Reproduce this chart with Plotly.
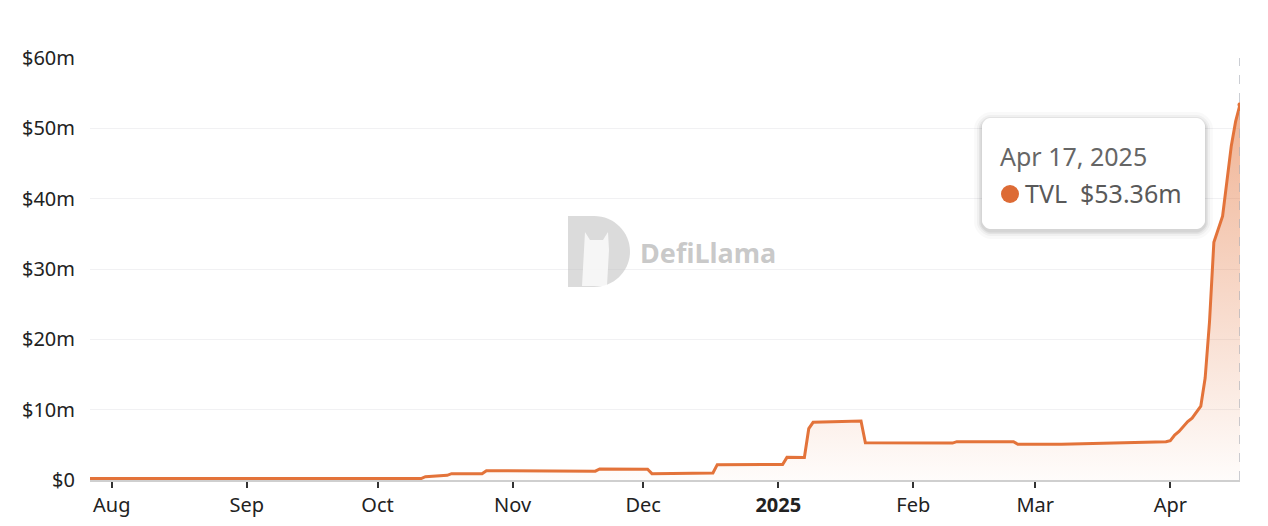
import plotly.graph_objects as go

# TVL (USD millions), at each date where the line turns
dates = [
    '2024-07-27', '2024-10-11', '2024-10-12', '2024-10-16', '2024-10-17', '2024-10-18',
    '2024-10-25', '2024-10-26', '2024-11-06', '2024-11-07', '2024-11-20', '2024-11-21',
    '2024-12-02', '2024-12-03', '2024-12-10', '2024-12-17', '2024-12-18', '2025-01-02',
    '2025-01-03', '2025-01-07', '2025-01-08', '2025-01-09', '2025-01-20', '2025-01-21',
    '2025-02-10', '2025-02-11', '2025-02-24', '2025-02-25', '2025-03-07', '2025-03-18',
    '2025-03-31', '2025-04-01', '2025-04-02', '2025-04-03', '2025-04-04', '2025-04-05',
    '2025-04-06', '2025-04-07', '2025-04-08', '2025-04-09', '2025-04-10', '2025-04-11',
    '2025-04-12', '2025-04-13', '2025-04-14', '2025-04-15', '2025-04-16', '2025-04-17',
]
tvl = [
    0.2, 0.2, 0.47, 0.55, 0.67, 0.9,
    0.9, 1.33, 1.33, 1.23, 1.25, 1.56,
    1.52, 0.9, 0.95, 1.0, 2.18, 2.2,
    3.22, 3.2, 7.3, 8.2, 8.4, 5.3,
    5.25, 5.45, 5.45, 5.08, 5.1, 5.3,
    5.45, 5.6, 6.4, 6.9, 7.6, 8.3,
    8.8, 9.6, 10.5, 14.5, 22.5, 33.8,
    35.6, 37.5, 42.5, 47.5, 51.0, 53.36,
]

y_ticks = [0, 10, 20, 30, 40, 50, 60]
y_labels = ['$0', '$10m', '$20m', '$30m', '$40m', '$50m', '$60m']
x_ticks = ['2024-08-01', '2024-09-01', '2024-10-01', '2024-11-01', '2024-12-01',
           '2025-01-01', '2025-02-01', '2025-03-01', '2025-04-01']
x_labels = ['Aug', 'Sep', 'Oct', 'Nov', 'Dec', '<b>2025</b>', 'Feb', 'Mar', 'Apr']

hover_date = 'Apr 17, 2025'
hover_value = '$53.36m'

ORANGE = '#e3733a'
FONT = 'Noto Sans'

# plot area in pixels: x 90..1240, y 58..480
L, R, T, B = 90, 1240, 58, 480


def px(x):
    return (x - L) / (R - L)


def py(y):
    return (B - y) / (B - T)


def rounded_rect(x0, y0, x1, y1, r):
    k = 0.45 * r
    pts = [
        ('M', [(x0 + r, y0)]),
        ('L', [(x1 - r, y0)]),
        ('C', [(x1 - r + k, y0), (x1, y0 + r - k), (x1, y0 + r)]),
        ('L', [(x1, y1 - r)]),
        ('C', [(x1, y1 - r + k), (x1 - r + k, y1), (x1 - r, y1)]),
        ('L', [(x0 + r, y1)]),
        ('C', [(x0 + r - k, y1), (x0, y1 - r + k), (x0, y1 - r)]),
        ('L', [(x0, y0 + r)]),
        ('C', [(x0, y0 + r - k), (x0 + r - k, y0), (x0 + r, y0)]),
    ]
    out = ''
    for cmd, coords in pts:
        out += cmd + ' '.join('%.5f,%.5f' % (px(a), py(b)) for a, b in coords) + ' '
    return out + 'Z'


fig = go.Figure()
fig.add_trace(go.Scatter(
    x=dates, y=tvl, mode='lines',
    line=dict(color=ORANGE, width=3),
    fill='tozeroy',
    fillgradient=dict(type='vertical', start=0, stop=54,
                      colorscale=[[0, 'rgba(227,115,58,0.02)'], [1, 'rgba(227,115,58,0.55)']]),
    hoverinfo='skip', showlegend=False,
))
fig.add_trace(go.Scatter(
    x=[dates[-1]], y=[tvl[-1]], mode='markers',
    marker=dict(color=ORANGE, size=5), hoverinfo='skip', showlegend=False,
))

shapes = []
# hover crosshair
shapes.append(dict(type='line', xref='x', yref='paper', x0=dates[-1], x1=dates[-1], y0=0, y1=1,
                   line=dict(color='#a9aeb8', width=1.2, dash='dash')))
# tooltip shadow + box
for grow, alpha in [(8, 0.025), (5, 0.035), (3, 0.05), (1.5, 0.06)]:
    shapes.append(dict(type='path', xref='paper', yref='paper', layer='above',
                       path=rounded_rect(982 - grow, 118 - grow + 2, 1205 + grow, 229 + grow + 2, 8 + grow),
                       fillcolor='rgba(0,0,0,%s)' % alpha, line=dict(width=0)))
shapes.append(dict(type='path', xref='paper', yref='paper', layer='above',
                   path=rounded_rect(982, 118, 1205, 229, 8),
                   fillcolor='white', line=dict(width=0)))
shapes.append(dict(type='circle', xref='paper', yref='paper', layer='above',
                   x0=px(1001), x1=px(1019), y0=py(203), y1=py(185),
                   fillcolor='#dd6b35', line=dict(width=0)))

# watermark logo
shapes.append(dict(type='path', xref='paper', yref='paper', layer='above',
                   path=('M%.5f,%.5f L%.5f,%.5f C%.5f,%.5f %.5f,%.5f %.5f,%.5f '
                         'C%.5f,%.5f %.5f,%.5f %.5f,%.5f L%.5f,%.5f L%.5f,%.5f Z') % (
                       px(568), py(216), px(594), py(216),
                       px(614), py(216), px(630), py(232), px(630), py(251.5),
                       px(630), py(271), px(614), py(287), px(594), py(287),
                       px(568), py(287), px(568), py(216)),
                   fillcolor='rgba(190,190,190,0.55)', line=dict(width=0)))
shapes.append(dict(type='path', xref='paper', yref='paper', layer='above',
                   path='M%.5f,%.5f L%.5f,%.5f L%.5f,%.5f L%.5f,%.5f L%.5f,%.5f L%.5f,%.5f L%.5f,%.5f L%.5f,%.5f Z' % (
                       px(582), py(286), px(584), py(250), px(585), py(232), px(590), py(240),
                       px(603), py(240), px(608), py(232), px(609), py(250), px(607), py(286)),
                   fillcolor='rgba(255,255,255,0.75)', line=dict(width=0)))

annotations = [
    dict(xref='paper', yref='paper', x=px(638), y=py(252), xanchor='left', yanchor='middle',
         text='<b>DefiLlama</b>', showarrow=False,
         font=dict(family=FONT, size=27, color='rgba(165,165,165,0.6)')),
    dict(xref='paper', yref='paper', x=px(998), y=py(156), xanchor='left', yanchor='middle',
         text=hover_date, showarrow=False, font=dict(family=FONT, size=25, color='#666666')),
    dict(xref='paper', yref='paper', x=px(1023), y=py(193), xanchor='left', yanchor='middle',
         text='TVL\u00a0 ' + hover_value, showarrow=False, font=dict(family=FONT, size=25, color='#595959')),
]

fig.update_layout(
    width=1268, height=526,
    margin=dict(l=L, r=1268 - R, t=T, b=526 - B),
    paper_bgcolor='white', plot_bgcolor='white',
    font=dict(family=FONT, size=20, color='#222222'),
    shapes=shapes, annotations=annotations,
    xaxis=dict(
        type='date', range=['2024-07-27', '2025-04-17'],
        tickvals=x_ticks, ticktext=x_labels, automargin=False,
        showgrid=False, zeroline=False,
        showline=True, linecolor='#cfcfcf', linewidth=1.5,
        ticks='outside', ticklen=6, tickwidth=1.5, tickcolor='#333333',
        tickfont=dict(family=FONT, size=20, color='#222222'),
    ),
    yaxis=dict(
        range=[0, 60], tickvals=y_ticks, ticktext=y_labels, automargin=False,
        showgrid=True, gridcolor='#f1f1f3', gridwidth=1, zeroline=False,
        showline=False, ticks='', ticklabelstandoff=14,
        tickfont=dict(family=FONT, size=20, color='#222222'),
    ),
)

fig.write_html('out.html', config={'displayModeBar': False},
               post_script="document.body.style.margin='0';")
